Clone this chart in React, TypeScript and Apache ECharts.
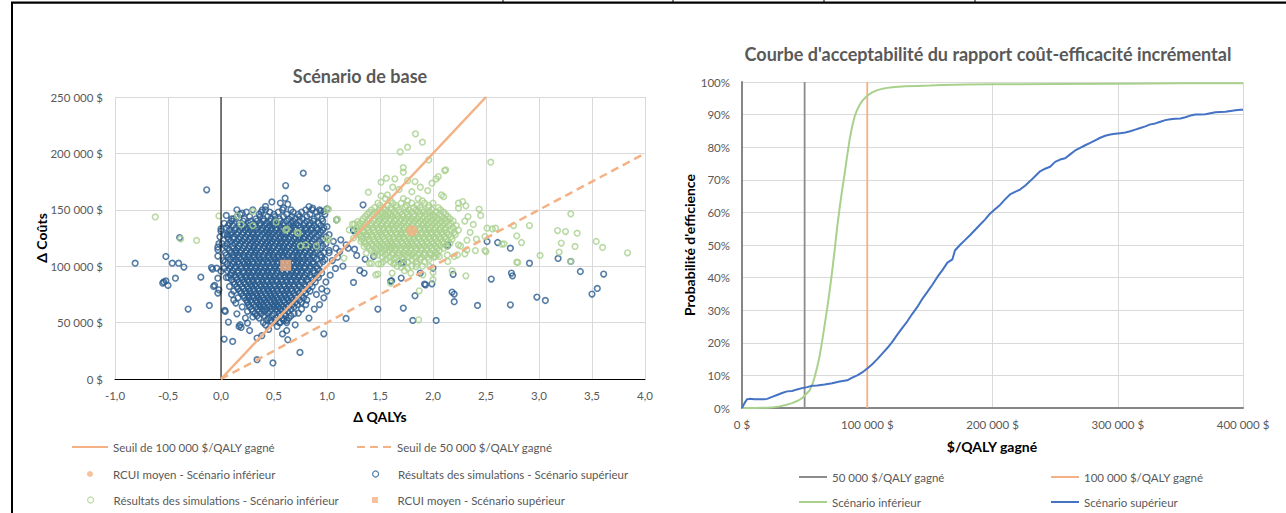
import React, { useEffect, useRef } from "react";
import * as echarts from "echarts";

const W = 1286;
const H = 513;
const FONT = "Lato, 'Liberation Sans', sans-serif";
const GREY_TXT = "#595959";
const BLUE_PT = "#2b5d8f";
const GREEN_PT = "#a9d18e";
const ORANGE = "#f4b183";
const GRID = "#d9d9d9";

// ---------- Left chart: Scénario de base (Δ QALYs, Δ Coûts in k$) ----------
const qalyTicks = [-1, -0.5, 0, 0.5, 1, 1.5, 2, 2.5, 3, 3.5, 4];
const costTicksK = [0, 50, 100, 150, 200, 250];

const threshold100 = [[0, 0], [2.5, 250]];
const threshold50 = [[0, 0], [4, 200]];

const meanInferieur = [[1.8, 131.5]];
const meanSuperieur = [[0.61, 100.8]];

// Dense core of the "Scénario supérieur" simulations: [cost k$, QALY values]
const blueCoreRows: [number, number[]][] = [
  [150, [0.30, 0.42, 0.58, 0.66, 0.80, 0.86, 0.93]],
  [148, [0.24, 0.38, 0.46, 0.54, 0.68, 0.76, 0.90]],
  [146, [0.18, 0.36, 0.50, 0.62, 0.73, 0.84, 0.98]],
  [144, [0.15, 0.27, 0.37, 0.44, 0.51, 0.59, 0.67, 0.74, 0.81, 0.91]],
  [142, [0.12, 0.22, 0.33, 0.40, 0.47, 0.55, 0.64, 0.70, 0.77, 0.88, 0.95]],
  [140, [0.10, 0.21, 0.28, 0.34, 0.40, 0.46, 0.51, 0.56, 0.62, 0.68, 0.74, 0.81, 0.87, 0.96]],
  [138, [0.08, 0.17, 0.26, 0.31, 0.37, 0.43, 0.49, 0.53, 0.59, 0.66, 0.71, 0.79, 0.84, 0.92]],
  [136, [0.07, 0.11, 0.17, 0.22, 0.27, 0.32, 0.37, 0.41, 0.46, 0.50, 0.55, 0.59, 0.64, 0.68, 0.73, 0.78, 0.83, 0.88, 0.94]],
  [134, [0.05, 0.14, 0.20, 0.25, 0.29, 0.34, 0.39, 0.44, 0.48, 0.52, 0.57, 0.61, 0.66, 0.70, 0.75, 0.80, 0.86, 0.90, 0.97]],
  [132, [0.08, 0.13, 0.18, 0.23, 0.28, 0.33, 0.38, 0.43, 0.47, 0.52, 0.57, 0.61, 0.65, 0.70, 0.75, 0.80, 0.85, 0.91, 0.96]],
  [130, [0.10, 0.16, 0.21, 0.26, 0.30, 0.35, 0.41, 0.45, 0.50, 0.55, 0.59, 0.63, 0.68, 0.73, 0.77, 0.82, 0.88, 0.94]],
  [128, [0.03, 0.09, 0.15, 0.20, 0.25, 0.30, 0.34, 0.39, 0.44, 0.48, 0.53, 0.58, 0.62, 0.67, 0.72, 0.76, 0.81, 0.86, 0.92]],
  [126, [0.06, 0.12, 0.18, 0.23, 0.28, 0.32, 0.37, 0.42, 0.46, 0.51, 0.56, 0.60, 0.65, 0.70, 0.74, 0.79, 0.84, 0.90, 0.99]],
  [124, [0.07, 0.12, 0.17, 0.22, 0.27, 0.32, 0.36, 0.41, 0.46, 0.50, 0.55, 0.60, 0.64, 0.69, 0.74, 0.78, 0.83, 0.88, 0.96]],
  [122, [0.09, 0.15, 0.20, 0.25, 0.30, 0.34, 0.39, 0.44, 0.48, 0.53, 0.57, 0.62, 0.67, 0.72, 0.76, 0.81, 0.86, 0.93]],
  [120, [0.06, 0.13, 0.18, 0.23, 0.28, 0.33, 0.38, 0.42, 0.47, 0.52, 0.56, 0.61, 0.66, 0.70, 0.75, 0.80, 0.85, 0.91, 0.99]],
  [118, [0.04, 0.11, 0.17, 0.22, 0.27, 0.31, 0.36, 0.41, 0.45, 0.50, 0.55, 0.59, 0.64, 0.69, 0.73, 0.78, 0.83, 0.89, 0.96]],
  [116, [0.06, 0.12, 0.16, 0.21, 0.26, 0.31, 0.35, 0.40, 0.45, 0.49, 0.54, 0.59, 0.63, 0.68, 0.73, 0.77, 0.82, 0.87, 0.94]],
  [114, [0.08, 0.14, 0.19, 0.24, 0.29, 0.33, 0.38, 0.43, 0.47, 0.52, 0.57, 0.61, 0.66, 0.71, 0.75, 0.80, 0.85, 0.91, 1.02]],
  [112, [0.10, 0.14, 0.18, 0.23, 0.28, 0.32, 0.37, 0.42, 0.46, 0.51, 0.56, 0.60, 0.65, 0.70, 0.74, 0.79, 0.84, 0.89, 0.97]],
  [110, [0.05, 0.12, 0.16, 0.21, 0.26, 0.31, 0.35, 0.40, 0.45, 0.49, 0.54, 0.58, 0.63, 0.68, 0.72, 0.77, 0.82, 0.87, 0.94]],
  [108, [0.07, 0.11, 0.17, 0.22, 0.26, 0.31, 0.36, 0.40, 0.45, 0.50, 0.54, 0.59, 0.63, 0.68, 0.72, 0.77, 0.82, 0.88, 0.95]],
  [106, [0.09, 0.14, 0.19, 0.24, 0.28, 0.33, 0.37, 0.42, 0.47, 0.51, 0.56, 0.61, 0.65, 0.70, 0.74, 0.79, 0.84, 0.90, 0.98]],
  [104, [0.04, 0.12, 0.16, 0.21, 0.25, 0.30, 0.35, 0.40, 0.44, 0.49, 0.54, 0.58, 0.63, 0.68, 0.72, 0.77, 0.82, 0.87, 0.96]],
  [102, [0.06, 0.11, 0.17, 0.22, 0.26, 0.30, 0.35, 0.39, 0.44, 0.49, 0.53, 0.58, 0.63, 0.67, 0.72, 0.76, 0.81, 0.87, 0.93]],
  [100, [0.09, 0.14, 0.19, 0.24, 0.28, 0.33, 0.37, 0.42, 0.46, 0.51, 0.56, 0.60, 0.65, 0.70, 0.74, 0.79, 0.84, 0.90]],
  [98, [0.08, 0.13, 0.19, 0.24, 0.28, 0.33, 0.37, 0.42, 0.46, 0.51, 0.55, 0.60, 0.65, 0.69, 0.74, 0.79, 0.84, 0.91]],
  [96, [0.06, 0.11, 0.16, 0.21, 0.26, 0.31, 0.35, 0.40, 0.44, 0.49, 0.53, 0.58, 0.63, 0.67, 0.72, 0.76, 0.82, 0.87, 0.93]],
  [94, [0.10, 0.16, 0.21, 0.26, 0.30, 0.35, 0.39, 0.44, 0.48, 0.53, 0.58, 0.62, 0.67, 0.71, 0.76, 0.81, 0.88, 0.95]],
  [92, [0.09, 0.13, 0.18, 0.24, 0.28, 0.33, 0.37, 0.42, 0.46, 0.51, 0.56, 0.60, 0.65, 0.69, 0.74, 0.79, 0.84, 0.91]],
  [90, [0.07, 0.14, 0.19, 0.23, 0.28, 0.32, 0.37, 0.41, 0.46, 0.50, 0.55, 0.60, 0.64, 0.69, 0.73, 0.78, 0.85, 0.92]],
  [88, [0.10, 0.15, 0.20, 0.25, 0.30, 0.34, 0.39, 0.43, 0.48, 0.52, 0.57, 0.62, 0.66, 0.71, 0.76, 0.81, 0.87]],
  [86, [0.12, 0.17, 0.22, 0.26, 0.30, 0.35, 0.39, 0.44, 0.48, 0.53, 0.57, 0.62, 0.66, 0.71, 0.76, 0.82, 0.89]],
  [84, [0.13, 0.18, 0.23, 0.28, 0.32, 0.37, 0.41, 0.46, 0.50, 0.55, 0.59, 0.64, 0.69, 0.73, 0.79, 0.84]],
  [82, [0.15, 0.20, 0.25, 0.29, 0.33, 0.38, 0.42, 0.46, 0.51, 0.55, 0.60, 0.64, 0.69, 0.74, 0.80, 0.86]],
  [80, [0.16, 0.21, 0.26, 0.31, 0.35, 0.40, 0.44, 0.48, 0.53, 0.57, 0.62, 0.66, 0.71, 0.77, 0.82]],
  [78, [0.18, 0.23, 0.27, 0.31, 0.36, 0.40, 0.45, 0.49, 0.53, 0.58, 0.62, 0.67, 0.72, 0.78, 0.84]],
  [76, [0.19, 0.24, 0.28, 0.33, 0.37, 0.42, 0.46, 0.50, 0.55, 0.60, 0.64, 0.69, 0.74, 0.80]],
  [74, [0.21, 0.26, 0.30, 0.34, 0.38, 0.43, 0.47, 0.51, 0.56, 0.60, 0.65, 0.70, 0.76]],
  [72, [0.22, 0.26, 0.31, 0.35, 0.40, 0.44, 0.49, 0.53, 0.57, 0.62, 0.66, 0.71, 0.78]],
  [70, [0.24, 0.28, 0.33, 0.37, 0.41, 0.46, 0.50, 0.54, 0.59, 0.63, 0.68, 0.74, 0.81]],
  [68, [0.25, 0.29, 0.34, 0.38, 0.43, 0.47, 0.51, 0.55, 0.60, 0.65, 0.70, 0.76]],
  [66, [0.26, 0.31, 0.36, 0.40, 0.44, 0.49, 0.53, 0.57, 0.62, 0.67, 0.72]],
  [64, [0.27, 0.33, 0.37, 0.41, 0.46, 0.50, 0.54, 0.59, 0.64, 0.69]],
  [62, [0.29, 0.35, 0.39, 0.43, 0.48, 0.52, 0.56, 0.61, 0.66]],
  [60, [0.30, 0.36, 0.41, 0.46, 0.53, 0.58, 0.63]],
  [58, [0.32, 0.38, 0.44, 0.50, 0.55, 0.60, 0.69]],
  [56, [0.34, 0.41, 0.48, 0.56, 0.61]],
  [54, [0.36, 0.45, 0.52, 0.58, 0.64]],
  [52, [0.43, 0.51, 0.59]],
  [50, [0.40, 0.48, 0.55, 0.62]],
];

// Scattered "Scénario supérieur" simulations: [QALY, cost k$]
const blueOuter: number[][] = [
  [-0.81, 102.7], [-0.135, 167.7], [-0.52, 108.6], [-0.55, 85], [-0.52, 87], [-0.5, 83], [-0.54, 86],
  [-0.46, 102.7], [-0.4, 102.7], [-0.35, 99.2], [-0.39, 125.4], [-0.43, 89.4], [-0.31, 62], [-0.19, 90.3],
  [-0.11, 65.2], [-0.09, 98.8], [-0.08, 97.5], [-0.07, 82], [-0.06, 83], [-0.03, 89.4], [-0.02, 79.1],
  [-0.03, 76.2], [0.0, 95.6], [-0.04, 98.3], [-0.03, 114.5], [-0.03, 117], [-0.02, 120], [-0.01, 126],
  [-0.03, 109], [0.0, 131], [0.0, 133],
  [0.035, 60.8], [0.03, 35.4], [0.11, 33.3], [0.07, 50.5], [0.15, 57.8], [0.14, 67.3], [0.18, 48.1],
  [0.19, 45.7], [0.25, 49.6], [0.23, 54], [0.34, 36.3], [0.385, 38.4], [0.34, 17.1], [0.49, 14.2],
  [0.53, 46.6], [0.62, 43], [0.63, 34.8], [0.745, 23.6], [0.97, 40.1], [0.62, 52], [0.83, 54], [0.73, 58.4],
  [0.04, 59.9], [0.17, 46.6],
  [0.776, 182.5], [0.61, 171.5], [0.605, 160.3], [1.0, 169.2], [0.59, 151.7], [0.39, 150], [0.42, 153],
  [0.83, 152.9], [0.865, 151.5], [0.94, 149], [0.56, 156], [0.63, 155], [0.2, 147], [0.48, 157],
  [1.34, 154.4], [1.25, 131.6], [1.13, 123.4], [1.18, 119], [1.2, 116], [1.28, 109.5], [1.26, 115.1],
  [1.36, 106.3], [1.44, 108.6], [1.31, 96.2], [1.35, 93.9], [1.25, 85.6], [1.18, 53.7], [1.48, 62],
  [1.61, 87.1], [1.7, 89.5], [1.72, 103.3], [1.7, 102.7], [1.72, 62.9], [1.83, 73.8], [1.81, 51.9],
  [1.88, 93.9], [1.93, 83.5], [1.92, 84.1], [1.99, 84.4], [2.0, 98.3], [2.03, 51.9], [2.14, 119],
  [2.19, 92.8], [2.18, 77.1], [2.2, 75.3], [2.2, 68.5], [2.42, 65.2], [2.51, 121.9], [2.55, 88.6],
  [2.61, 121], [2.73, 116], [2.74, 93.9], [2.75, 91.5], [2.73, 65.8], [2.91, 102.7], [2.98, 72.6],
  [3.06, 69.6], [3.18, 106.9], [3.3, 104.2], [3.39, 95.3], [3.5, 75.3], [3.55, 80.3], [3.61, 93.0],
  [1.6, 86.8], [2.135, 118], [1.0, 150.9], [0.97, 148.5], [1.09, 141], [1.25, 132.2], [1.085, 116], [1.12, 113],
  [1.0, 135], [1.02, 128], [1.05, 105], [1.08, 98], [1.03, 92], [0.99, 86], [1.06, 122], [1.1, 108],
  [1.0, 78], [0.97, 72], [0.93, 66], [0.88, 62], [0.9, 75], [0.95, 80], [1.15, 100], [1.02, 112],
  [0.02, 105], [0.03, 98], [0.05, 90], [0.08, 82], [0.1, 75], [0.12, 70], [0.04, 112], [0.01, 120],
  [0.06, 128], [0.03, 138], [0.1, 142], [0.05, 145], [0.15, 150], [0.12, 78], [0.16, 72], [0.2, 64],
  [0.25, 60], [0.3, 55], [0.27, 43], [0.42, 48], [0.47, 52], [0.56, 50], [0.66, 56], [0.7, 48],
  [0.76, 62], [0.8, 66], [0.58, 40], [0.45, 44],
];

// Dense core of the "Scénario inférieur" simulations: [cost k$, QALY values]
const greenCoreRows: [number, number[]][] = [
  [160, [1.55, 1.72, 1.86]],
  [158, [1.60, 1.76, 1.90]],
  [156, [1.48, 1.62, 1.70, 1.80, 1.92, 2.0]],
  [154, [1.50, 1.57, 1.65, 1.75, 1.85, 1.96]],
  [152, [1.45, 1.53, 1.60, 1.66, 1.74, 1.82, 1.88, 1.96, 2.05]],
  [150, [1.42, 1.49, 1.55, 1.61, 1.68, 1.77, 1.84, 1.90, 1.99, 2.07]],
  [148, [1.40, 1.47, 1.52, 1.58, 1.63, 1.69, 1.75, 1.80, 1.86, 1.91, 1.97, 2.03, 2.10]],
  [146, [1.38, 1.44, 1.50, 1.55, 1.60, 1.65, 1.71, 1.76, 1.82, 1.88, 1.94, 2.00, 2.06, 2.12]],
  [144, [1.36, 1.42, 1.48, 1.53, 1.57, 1.62, 1.67, 1.72, 1.77, 1.82, 1.87, 1.92, 1.97, 2.02, 2.08, 2.14]],
  [142, [1.34, 1.40, 1.45, 1.50, 1.55, 1.60, 1.65, 1.70, 1.75, 1.80, 1.85, 1.90, 1.95, 2.00, 2.05, 2.11, 2.16]],
  [140, [1.33, 1.39, 1.44, 1.49, 1.54, 1.59, 1.64, 1.69, 1.73, 1.78, 1.83, 1.88, 1.93, 1.98, 2.03, 2.08, 2.13, 2.19]],
  [138, [1.31, 1.37, 1.42, 1.47, 1.52, 1.57, 1.62, 1.67, 1.72, 1.77, 1.81, 1.86, 1.91, 1.96, 2.01, 2.06, 2.11, 2.17]],
  [136, [1.30, 1.36, 1.41, 1.46, 1.51, 1.56, 1.61, 1.65, 1.70, 1.75, 1.80, 1.85, 1.90, 1.94, 1.99, 2.04, 2.09, 2.15, 2.22]],
  [134, [1.28, 1.33, 1.38, 1.43, 1.48, 1.53, 1.58, 1.63, 1.68, 1.73, 1.78, 1.82, 1.87, 1.92, 1.97, 2.02, 2.07, 2.12, 2.19]],
  [132, [1.28, 1.34, 1.39, 1.44, 1.49, 1.53, 1.58, 1.63, 1.68, 1.72, 1.77, 1.82, 1.87, 1.92, 1.96, 2.01, 2.06, 2.11, 2.17, 2.24]],
  [130, [1.29, 1.35, 1.40, 1.45, 1.50, 1.55, 1.60, 1.65, 1.70, 1.74, 1.79, 1.84, 1.89, 1.94, 1.98, 2.03, 2.08, 2.13, 2.20]],
  [128, [1.31, 1.37, 1.42, 1.47, 1.51, 1.56, 1.61, 1.66, 1.70, 1.75, 1.80, 1.84, 1.89, 1.94, 1.99, 2.04, 2.09, 2.15, 2.21]],
  [126, [1.32, 1.38, 1.43, 1.48, 1.53, 1.58, 1.63, 1.68, 1.72, 1.77, 1.82, 1.86, 1.91, 1.96, 2.01, 2.06, 2.11, 2.17]],
  [124, [1.33, 1.39, 1.44, 1.49, 1.54, 1.59, 1.63, 1.68, 1.73, 1.78, 1.82, 1.87, 1.92, 1.97, 2.02, 2.07, 2.12, 2.18]],
  [122, [1.35, 1.40, 1.45, 1.50, 1.55, 1.60, 1.65, 1.70, 1.75, 1.79, 1.84, 1.89, 1.94, 1.99, 2.04, 2.09, 2.14]],
  [120, [1.36, 1.42, 1.47, 1.52, 1.57, 1.61, 1.66, 1.71, 1.76, 1.80, 1.85, 1.90, 1.95, 2.00, 2.05, 2.10, 2.16]],
  [118, [1.38, 1.43, 1.49, 1.54, 1.59, 1.63, 1.68, 1.73, 1.77, 1.82, 1.87, 1.92, 1.97, 2.02, 2.07, 2.13]],
  [116, [1.40, 1.46, 1.51, 1.56, 1.61, 1.65, 1.70, 1.75, 1.79, 1.84, 1.89, 1.94, 1.99, 2.04, 2.10]],
  [114, [1.42, 1.48, 1.54, 1.59, 1.64, 1.69, 1.74, 1.79, 1.84, 1.89, 1.94, 2.00, 2.06]],
  [112, [1.45, 1.51, 1.57, 1.62, 1.67, 1.72, 1.77, 1.82, 1.87, 1.92, 1.97, 2.03]],
  [110, [1.48, 1.55, 1.62, 1.68, 1.74, 1.80, 1.86, 1.92, 1.98, 2.04]],
  [108, [1.52, 1.59, 1.65, 1.71, 1.77, 1.83, 1.89, 1.95, 2.01]],
  [106, [1.56, 1.63, 1.72, 1.80, 1.88, 1.96]],
  [104, [1.60, 1.68, 1.76, 1.84, 1.92]],
  [102, [1.63, 1.72, 1.85]],
  [100, [1.66, 1.80, 1.90]],
];

// Scattered "Scénario inférieur" simulations: [QALY, cost k$]
const greenOuter: number[][] = [
  [-0.62, 143.7], [-0.38, 124.3], [-0.23, 122.8], [-0.02, 144.6], [0.155, 144.6], [0.3, 148.5], [0.19, 137],
  [0.3, 136], [0.52, 139], [0.62, 132.9], [0.61, 132], [0.72, 129.9], [0.73, 129.3], [0.75, 118], [0.8, 119],
  [0.9, 118], [1.0, 150], [1.02, 123.4], [1.015, 150.6], [1.09, 141], [1.16, 107.2], [1.0, 124],
  [1.835, 217.3], [1.9, 209.9], [1.69, 201.3], [1.76, 205.5], [1.96, 194.2], [2.545, 192.2], [1.72, 187.4],
  [1.72, 183.3], [1.51, 174.5], [1.56, 178], [1.64, 177.4], [1.76, 175.9], [1.83, 175], [2.03, 177.4],
  [2.11, 184.8], [2.05, 179.5], [1.99, 173.6], [1.39, 165.6], [1.51, 162.4], [1.57, 163.2], [2.08, 163.2],
  [2.1, 161.7], [2.28, 157.3], [2.31, 153.5], [2.24, 151.5], [2.33, 144], [2.435, 150.6], [1.1, 141.7],
  [1.24, 137.3], [1.29, 139.6], [2.24, 155.9], [2.12, 185.4], [1.68, 168], [1.8, 166], [1.95, 167],
  [1.62, 170], [1.88, 170],
  [2.41, 124], [2.49, 126.3], [2.51, 133.7], [2.56, 133.1], [2.59, 133.7], [2.65, 119.6], [2.76, 136],
  [2.79, 126.9], [2.835, 121], [2.91, 136], [2.5, 113], [2.79, 103.6], [3.01, 109.5], [3.175, 131.6],
  [3.25, 130.7], [3.3, 146.4], [3.21, 120.5], [3.19, 112.5], [3.36, 129.3], [3.34, 117.5], [3.3, 104.2],
  [3.54, 121.9], [3.6, 116.6], [3.835, 111.9], [2.67, 119.8], [2.4, 113.9], [2.49, 113.9], [2.32, 114.5],
  [2.24, 119], [2.8, 103.3], [2.3, 140], [2.35, 130], [2.38, 137], [2.45, 145],
  [2.31, 91.5], [2.18, 95.9], [2.0, 94.4], [2.0, 88], [1.87, 78.2], [1.865, 52.5], [1.79, 93.9],
  [1.76, 98.3], [1.7, 99], [1.73, 96], [1.64, 102.7], [1.48, 93], [1.4, 102.7], [1.51, 102], [1.53, 104],
  [2.02, 108.6], [2.14, 104.2], [2.2, 108.6], [2.23, 110], [2.26, 118], [2.32, 123], [2.3, 111],
  [1.35, 117.5], [1.45, 110], [1.37, 111.6], [1.42, 102.7], [1.485, 102], [1.46, 92.4], [1.615, 93.9],
  [1.6, 85], [1.905, 92.4], [1.97, 99.8], [2.06, 108.6], [2.135, 110], [1.84, 99.7], [1.26, 137.3],
  [1.21, 132.2], [1.38, 127.8], [1.32, 121.9], [1.25, 125], [1.3, 128],
];

// ---------- Right chart: CEAC (threshold in k$, probability %) ----------
const wtpTicksK = [0, 100, 200, 300, 400];
const probTicks = [0, 10, 20, 30, 40, 50, 60, 70, 80, 90, 100];
const line50k = [[50, 0], [50, 100]];
const line100k = [[100, 0], [100, 100]];

const ceacInferieur = [
  [0, 0], [10, 0], [20, 0.1], [25, 0.2], [30, 0.5], [35, 0.9], [40, 1.5], [45, 2.3], [48, 3.0], [50, 3.8],
  [52, 4.6], [54, 5.4], [56, 7.0], [58, 9.5], [60, 12.5], [62, 16.0], [64, 20.5], [66, 25.5], [68, 30.5],
  [70, 36.0], [72, 42.0], [74, 48.5], [76, 55.5], [78, 61.5], [80, 67.0], [82, 72.0], [84, 77.5], [86, 82.5],
  [88, 86.5], [90, 89.5], [92, 91.5], [94, 93.0], [96, 94.2], [98, 95.0], [100, 95.8], [104, 96.8],
  [108, 97.5], [112, 97.9], [116, 98.2], [120, 98.4], [130, 98.7], [140, 98.8], [150, 98.9], [160, 99.1],
  [180, 99.2], [200, 99.3], [250, 99.4], [300, 99.5], [350, 99.6], [400, 99.6],
];

const ceacSuperieur = [
  [0, 0], [2, 1.5], [4, 2.7], [6, 2.8], [10, 2.7], [14, 2.7], [18, 2.7], [20, 2.8], [24, 3.4], [28, 4.0],
  [32, 4.6], [36, 5.1], [40, 5.2], [44, 5.7], [48, 6.1], [52, 6.4], [56, 6.8], [60, 6.9], [66, 7.2],
  [72, 7.6], [78, 8.1], [84, 8.5], [88, 9.3], [92, 10.0], [96, 10.9], [100, 12.1], [104, 13.4], [108, 15.0],
  [112, 16.7], [116, 18.4], [120, 20.3], [124, 22.5], [128, 24.6], [132, 26.6], [136, 28.9], [140, 31.0],
  [144, 33.5], [148, 35.6], [152, 37.8], [156, 40.2], [160, 42.3], [164, 44.6], [168, 45.6], [170, 48.3],
  [174, 50.0], [178, 51.5], [182, 53.0], [186, 54.6], [190, 56.2], [194, 57.8], [198, 59.6], [202, 61.0],
  [206, 62.3], [210, 64.0], [214, 65.5], [218, 66.3], [222, 67.0], [226, 68.2], [230, 69.6], [234, 71.1],
  [238, 72.6], [242, 73.4], [246, 74.0], [250, 75.5], [254, 76.2], [258, 76.6], [262, 77.8], [266, 79.0],
  [270, 79.8], [274, 80.6], [278, 81.3], [282, 82.1], [286, 82.9], [290, 83.5], [294, 83.9], [298, 84.1],
  [302, 84.3], [306, 84.5], [310, 84.9], [314, 85.4], [318, 85.9], [322, 86.4], [326, 87.0], [330, 87.3],
  [334, 87.8], [338, 88.3], [342, 88.6], [346, 88.7], [350, 88.8], [354, 89.2], [358, 89.7], [362, 90.0],
  [366, 90.0], [370, 90.1], [374, 90.4], [378, 90.7], [382, 90.8], [386, 90.9], [390, 91.1], [394, 91.3],
  [398, 91.5], [400, 91.5],
];

const N_100 = "Seuil de 100 000 $/QALY gagné";
const N_50 = "Seuil de 50 000 $/QALY gagné";
const N_MEAN_INF = "RCUI moyen - Scénario inférieur";
const N_SIM_SUP = "Résultats des simulations - Scénario supérieur";
const N_SIM_INF = "Résultats des simulations - Scénario inférieur";
const N_MEAN_SUP = "RCUI moyen - Scénario supérieur";
const R_50 = "50 000 $/QALY gagné";
const R_100 = "100 000 $/QALY gagné";
const R_INF = "Scénario inférieur";
const R_SUP = "Scénario supérieur";

const flatten = (rows: [number, number[]][]) =>
  rows.flatMap(([y, xs]) => xs.map((x) => [x, y]));

const money = (v: number) =>
  String(Math.round(v)).replace(/\B(?=(\d{3})+(?!\d))/g, " ") + " $";

function text(x: number, y: number, t: string, font: string, fill: string, rotation = 0) {
  return {
    type: "text",
    x,
    y,
    rotation,
    silent: true,
    style: { text: t, font, fill, textAlign: "center", textVerticalAlign: "middle", verticalAlign: "middle" },
  };
}

function line(x1: number, y1: number, x2: number, y2: number, w: number) {
  return { type: "line", silent: true, shape: { x1, y1, x2, y2 }, style: { stroke: "#000", lineWidth: w } };
}

const SQUARE = "path://M0,0L10,0L10,10L0,10Z";
const hideDot = { color: "transparent", borderWidth: 0, opacity: 0 };

function legendRow(left: number, centerY: number, itemWidth: number, fontSize: number, item: any) {
  return {
    left,
    top: centerY - 7,
    padding: 0,
    itemWidth,
    itemHeight: 6,
    itemGap: 0,
    selectedMode: false,
    symbolKeepAspect: true,
    textStyle: { color: GREY_TXT, fontSize, fontFamily: FONT, lineHeight: 14 },
    data: [item],
  };
}

const hollow = (c: string) => ({ color: "transparent", borderColor: c, borderWidth: 1.6 });

export default function App() {
  const ref = useRef<HTMLDivElement>(null);
  useEffect(() => {
    const chart = echarts.init(ref.current!, null, { renderer: "svg", width: W, height: H });
    const blueData = [...flatten(blueCoreRows), ...blueOuter];
    const greenData = [...flatten(greenCoreRows), ...greenOuter];
    const leftLabel = { color: GREY_TXT, fontSize: 11.5, fontFamily: FONT };
    const rightLabel = { color: GREY_TXT, fontSize: 11.5, fontFamily: FONT };
    const LF = 11.5;
    const option: any = {
      animation: false,
      backgroundColor: "#ffffff",
      textStyle: { fontFamily: FONT },
      graphic: [
        line(11, 2.6, W, 2.6, 2.4),
        line(12, 2, 12, H, 2),
        line(503, 0, 503, 3, 1),
        line(673, 0, 673, 3, 1),
        line(824, 0, 824, 3, 1),
        line(975, 0, 975, 3, 1),
        text(360, 76, "Scénario de base", `bold 18px ${FONT}`, GREY_TXT),
        text(988, 54, "Courbe d'acceptabilité du rapport coût-efficacité incrémental", `bold 18px ${FONT}`, GREY_TXT),
        text(41, 238, "Δ Coûts", `bold 14px ${FONT}`, "#000", Math.PI / 2),
        text(380, 416, "Δ QALYs", `bold 14px ${FONT}`, "#000"),
        text(689, 245, "Probabilité d'efficience", `bold 14px ${FONT}`, "#000", Math.PI / 2),
        text(992, 446, "$/QALY gagné", `bold 14px ${FONT}`, "#000"),
      ],
      legend: [
        legendRow(71, 447, 36, LF, { name: N_100, itemStyle: hideDot }),
        legendRow(87, 474, 36, LF, { name: N_MEAN_INF, icon: "circle", itemStyle: { color: ORANGE, borderWidth: 0 } }),
        legendRow(87, 500, 36, LF, {
          name: N_SIM_INF, icon: "circle",
          itemStyle: { color: "transparent", borderColor: GREEN_PT, borderWidth: 1.2 },
        }),
        legendRow(356, 447, 35, LF, { name: N_50, itemStyle: hideDot }),
        legendRow(372, 474, 35, LF, {
          name: N_SIM_SUP, icon: "circle",
          itemStyle: { color: "transparent", borderColor: BLUE_PT, borderWidth: 1.2 },
        }),
        legendRow(372, 500, 35, LF, { name: N_MEAN_SUP, icon: SQUARE, itemStyle: { color: ORANGE, borderWidth: 0 } }),
        legendRow(798, 477, 28, 11.5, { name: R_50, itemStyle: hideDot }),
        legendRow(798, 502, 28, 11.5, { name: R_INF, itemStyle: hideDot }),
        legendRow(1050, 477, 28, 11.5, { name: R_100, itemStyle: hideDot }),
        legendRow(1050, 502, 28, 11.5, { name: R_SUP, itemStyle: hideDot }),
      ],
      grid: [
        { left: 115, top: 97, width: 530, height: 282, containLabel: false, outerBoundsMode: "none" },
        { left: 742, top: 82, width: 501, height: 326, containLabel: false, outerBoundsMode: "none" },
      ],
      xAxis: [
        {
          gridIndex: 0, type: "value", min: qalyTicks[0], max: qalyTicks[qalyTicks.length - 1], interval: 0.5,
          axisLine: { show: true, onZero: false, lineStyle: { color: "#000", width: 1 } },
          axisTick: { show: false },
          splitLine: { show: true, lineStyle: { color: GRID, width: 1 } },
          axisLabel: { ...leftLabel, margin: 10, formatter: (v: number) => v.toFixed(1).replace(".", ",") },
        },
        {
          gridIndex: 1, type: "value", min: wtpTicksK[0], max: wtpTicksK[wtpTicksK.length - 1], interval: 100,
          axisLine: { show: true, onZero: false, lineStyle: { color: "#868686", width: 2 } },
          axisTick: { show: false },
          splitLine: { show: true, lineStyle: { color: GRID, width: 1 } },
          axisLabel: { ...rightLabel, margin: 10, formatter: (v: number) => money(v * 1000) },
        },
      ],
      yAxis: [
        {
          gridIndex: 0, type: "value", min: costTicksK[0], max: costTicksK[costTicksK.length - 1], interval: 50,
          axisLine: { show: false },
          axisTick: { show: false },
          splitLine: { show: true, lineStyle: { color: GRID, width: 1 } },
          axisLabel: { ...leftLabel, margin: 12, formatter: (v: number) => money(v * 1000) },
        },
        {
          gridIndex: 1, type: "value", min: probTicks[0], max: probTicks[probTicks.length - 1], interval: 10,
          axisLine: { show: true, onZero: false, lineStyle: { color: "#868686", width: 2 } },
          axisTick: { show: false },
          splitLine: { show: true, lineStyle: { color: GRID, width: 1 } },
          axisLabel: { ...rightLabel, margin: 12, formatter: "{value}%" },
        },
      ],
      series: [
        {
          name: "axe0", type: "line", xAxisIndex: 0, yAxisIndex: 0, data: [[0, 0], [0, 250]],
          symbol: "none", silent: true, lineStyle: { color: "#000", width: 1 },
        },
        {
          name: N_SIM_SUP, type: "scatter", xAxisIndex: 0, yAxisIndex: 0, data: blueData,
          symbol: "circle", symbolSize: 5.6, itemStyle: hollow(BLUE_PT), silent: true,
        },
        {
          name: N_SIM_INF, type: "scatter", xAxisIndex: 0, yAxisIndex: 0, data: greenData,
          symbol: "circle", symbolSize: 5.6, itemStyle: hollow(GREEN_PT), silent: true,
        },
        {
          name: N_100, type: "line", xAxisIndex: 0, yAxisIndex: 0, data: threshold100, symbol: "none",
          lineStyle: { color: ORANGE, width: 2.5 }, itemStyle: { color: ORANGE }, silent: true,
        },
        {
          name: N_50, type: "line", xAxisIndex: 0, yAxisIndex: 0, data: threshold50, symbol: "none",
          lineStyle: { color: ORANGE, width: 2.5, type: [8, 5] }, itemStyle: { color: ORANGE }, silent: true,
        },
        {
          name: N_MEAN_INF, type: "scatter", xAxisIndex: 0, yAxisIndex: 0, data: meanInferieur,
          symbol: "circle", symbolSize: 11, itemStyle: { color: ORANGE }, silent: true,
        },
        {
          name: N_MEAN_SUP, type: "scatter", xAxisIndex: 0, yAxisIndex: 0, data: meanSuperieur,
          symbol: "rect", symbolSize: 11, itemStyle: { color: ORANGE }, silent: true,
        },
        {
          name: R_50, type: "line", xAxisIndex: 1, yAxisIndex: 1, data: line50k, symbol: "none",
          lineStyle: { color: "#8c8c8c", width: 1.8 }, itemStyle: { color: "#8c8c8c" }, silent: true,
        },
        {
          name: R_100, type: "line", xAxisIndex: 1, yAxisIndex: 1, data: line100k, symbol: "none",
          lineStyle: { color: ORANGE, width: 1.8 }, itemStyle: { color: ORANGE }, silent: true,
        },
        {
          name: R_INF, type: "line", xAxisIndex: 1, yAxisIndex: 1, data: ceacInferieur, symbol: "none",
          lineStyle: { color: GREEN_PT, width: 2 }, itemStyle: { color: GREEN_PT }, silent: true,
        },
        {
          name: R_SUP, type: "line", xAxisIndex: 1, yAxisIndex: 1, data: ceacSuperieur, symbol: "none",
          lineStyle: { color: "#4472c4", width: 2 }, itemStyle: { color: "#4472c4" }, silent: true,
        },
      ],
    };
    chart.setOption(option);
    return () => chart.dispose();
  }, []);
  return (
    <div
      ref={ref}
      style={{ position: "fixed", left: 0, top: 0, width: W, height: H, background: "#fff" }}
    />
  );
}
